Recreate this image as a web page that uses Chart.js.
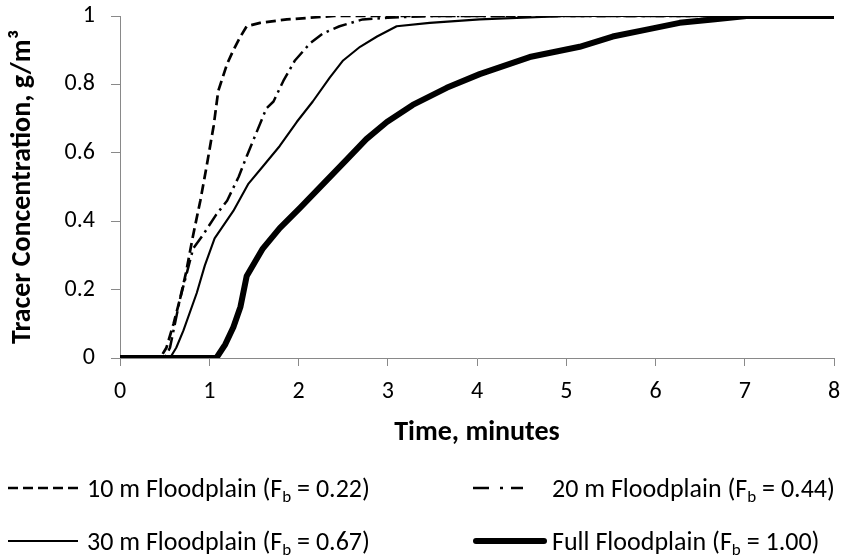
<!DOCTYPE html>
<html><head><meta charset="utf-8">
<script src="https://cdn.jsdelivr.net/npm/chart.js@4/dist/chart.umd.min.js"></script>
<style>html,body{margin:0;padding:0;background:#fff;overflow:hidden}</style>
</head><body>
<canvas id="c" width="841" height="557"></canvas>
<script>
const FONT = "Carlito, Lato, 'Liberation Sans', sans-serif";

// 10 m floodplain (dashed)
const time10 = [0, 0.45, 0.52, 0.6, 0.67, 0.74, 0.82, 0.9, 0.97, 1.05, 1.1, 1.2, 1.27, 1.35, 1.42, 1.57, 1.87, 2.4, 3, 4, 5, 6, 7, 8];
const conc10 = [0, 0, 0.03, 0.1, 0.17, 0.25, 0.36, 0.46, 0.56, 0.68, 0.78, 0.86, 0.90, 0.94, 0.97, 0.98, 0.99, 1, 1, 1, 1, 1, 1, 1];
// 20 m floodplain (dash-dot)
const time20 = [0, 0.5, 0.56, 0.67, 0.82, 0.93, 1.08, 1.2, 1.33, 1.42, 1.53, 1.64, 1.72, 1.83, 1.96, 2.13, 2.28, 2.46, 2.72, 3.0, 3.5, 4, 5, 6, 7, 8];
const conc20 = [0, 0, 0.03, 0.17, 0.32, 0.36, 0.42, 0.46, 0.53, 0.59, 0.66, 0.73, 0.75, 0.81, 0.87, 0.92, 0.95, 0.97, 0.99, 0.995, 1, 1, 1, 1, 1, 1];
// 30 m floodplain (thin solid)
const time30 = [0, 0.56, 0.63, 0.71, 0.86, 0.95, 1.06, 1.27, 1.44, 1.6, 1.79, 1.98, 2.16, 2.35, 2.5, 2.69, 2.88, 3.1, 3.47, 4.03, 5, 6, 7, 8];
const conc30 = [0, 0, 0.03, 0.08, 0.19, 0.27, 0.35, 0.43, 0.51, 0.56, 0.62, 0.69, 0.75, 0.82, 0.87, 0.91, 0.94, 0.97, 0.98, 0.99, 1, 1, 1, 1];
// Full floodplain (thick solid)
const timeFull = [0, 1.08, 1.18, 1.27, 1.35, 1.42, 1.51, 1.6, 1.79, 2.02, 2.28, 2.54, 2.76, 2.99, 3.28, 3.66, 4.03, 4.59, 5.15, 5.52, 5.9, 6.27, 6.64, 7.02, 7.5, 8];
const concFull = [0, 0, 0.04, 0.09, 0.15, 0.24, 0.28, 0.32, 0.38, 0.44, 0.51, 0.58, 0.64, 0.69, 0.74, 0.79, 0.83, 0.88, 0.91, 0.94, 0.96, 0.98, 0.99, 1.0, 1.0, 1.0];

const seriesNames = ['10 m Floodplain', '20 m Floodplain', '30 m Floodplain', 'Full Floodplain'];
const fbValues = ['0.22', '0.44', '0.67', '1.00'];
const xMin = 0, xMax = 8, xStep = 1;
const yMin = 0, yMax = 1, yStep = 0.2;
const xTitle = 'Time, minutes';
const yTitle = 'Tracer Concentration, g/m³';

const pts = (t, c) => t.map((v, i) => ({x: v, y: c[i]}));

const styles = [
  {borderWidth: 2.7, borderDash: [10, 5]},
  {borderWidth: 2.5, borderDash: [14, 5, 2.5, 5]},
  {borderWidth: 2.1, borderDash: []},
  {borderWidth: 6, borderDash: []}
];
const seriesData = [pts(time10, conc10), pts(time20, conc20), pts(time30, conc30), pts(timeFull, concFull)];

const datasets = seriesData.map((d, i) => Object.assign({
  label: seriesNames[i], data: d, borderColor: '#000', backgroundColor: '#000',
  pointRadius: 0, tension: 0, fill: false, borderJoinStyle: 'round', borderCapStyle: 'butt'
}, styles[i]));

const legendPlugin = {
  id: 'customLegend',
  afterDraw(chart) {
    const ctx = chart.ctx;
    const slots = [
      {x0: 8, x1: 78, tx: 87, y: 488, dash: [10, 5], w: 2.7, cap: 'butt'},
      {x0: 473, x1: 523, tx: 552, y: 488, dash: [16, 11, 3, 8], w: 2.7, cap: 'butt'},
      {x0: 8, x1: 78, tx: 87, y: 541, dash: [], w: 2.2, cap: 'butt'},
      {x0: 476, x1: 544, tx: 552, y: 541, dash: [], w: 6, cap: 'round'}
    ];
    ctx.save();
    slots.forEach((s, i) => {
      ctx.beginPath();
      ctx.setLineDash(s.dash);
      ctx.lineWidth = s.w;
      ctx.lineCap = s.cap;
      ctx.strokeStyle = '#000';
      ctx.moveTo(s.x0, s.y);
      ctx.lineTo(s.x1, s.y);
      ctx.stroke();
      ctx.setLineDash([]);
      ctx.fillStyle = '#000';
      ctx.textBaseline = 'alphabetic';
      ctx.textAlign = 'left';
      const base = s.y + 9;
      let x = s.tx;
      ctx.font = `26px ${FONT}`;
      const p1 = seriesNames[i] + ' (F';
      ctx.fillText(p1, x, base);
      x += ctx.measureText(p1).width;
      ctx.font = `17px ${FONT}`;
      ctx.fillText('b', x, base + 5);
      x += ctx.measureText('b').width;
      ctx.font = `26px ${FONT}`;
      ctx.fillText(' = ' + fbValues[i] + ')', x, base);
    });
    ctx.restore();
  }
};

const axisColor = '#898989';
new Chart(document.getElementById('c'), {
  type: 'line',
  data: {datasets},
  options: {
    responsive: false, animation: false, devicePixelRatio: 1,
    layout: {padding: {top: 16, right: 7, bottom: 104, left: 0}},
    plugins: {legend: {display: false}, tooltip: {enabled: false}},
    scales: {
      x: {
        type: 'linear', min: xMin, max: xMax,
        ticks: {stepSize: xStep, color: '#000', font: {family: FONT, size: 24}, padding: 12, maxRotation: 0},
        grid: {drawOnChartArea: false, drawTicks: true, tickLength: 8, color: axisColor, lineWidth: 1},
        border: {display: true, color: axisColor, width: 1},
        title: {display: true, text: xTitle, color: '#000', font: {family: FONT, size: 28, weight: 'bold'}, padding: {top: 0, bottom: 3}},
        afterFit(s) { s.height = 95; s.paddingLeft = 0; s.paddingRight = 0; }
      },
      y: {
        type: 'linear', min: yMin, max: yMax,
        ticks: {stepSize: yStep, color: '#000', font: {family: FONT, size: 24}, padding: 16,
          callback: v => String(parseFloat(Number(v).toFixed(1)))},
        grid: {drawOnChartArea: false, drawTicks: true, tickLength: 9, color: axisColor, lineWidth: 1},
        border: {display: true, color: axisColor, width: 1},
        title: {display: true, text: yTitle, color: '#000', font: {family: FONT, size: 28, weight: 'bold'}, padding: {top: 6, bottom: 0}},
        afterFit(s) { s.width = 120; s.paddingTop = 0; s.paddingBottom = 0; }
      }
    }
  },
  plugins: [legendPlugin]
});
</script>
</body></html>
